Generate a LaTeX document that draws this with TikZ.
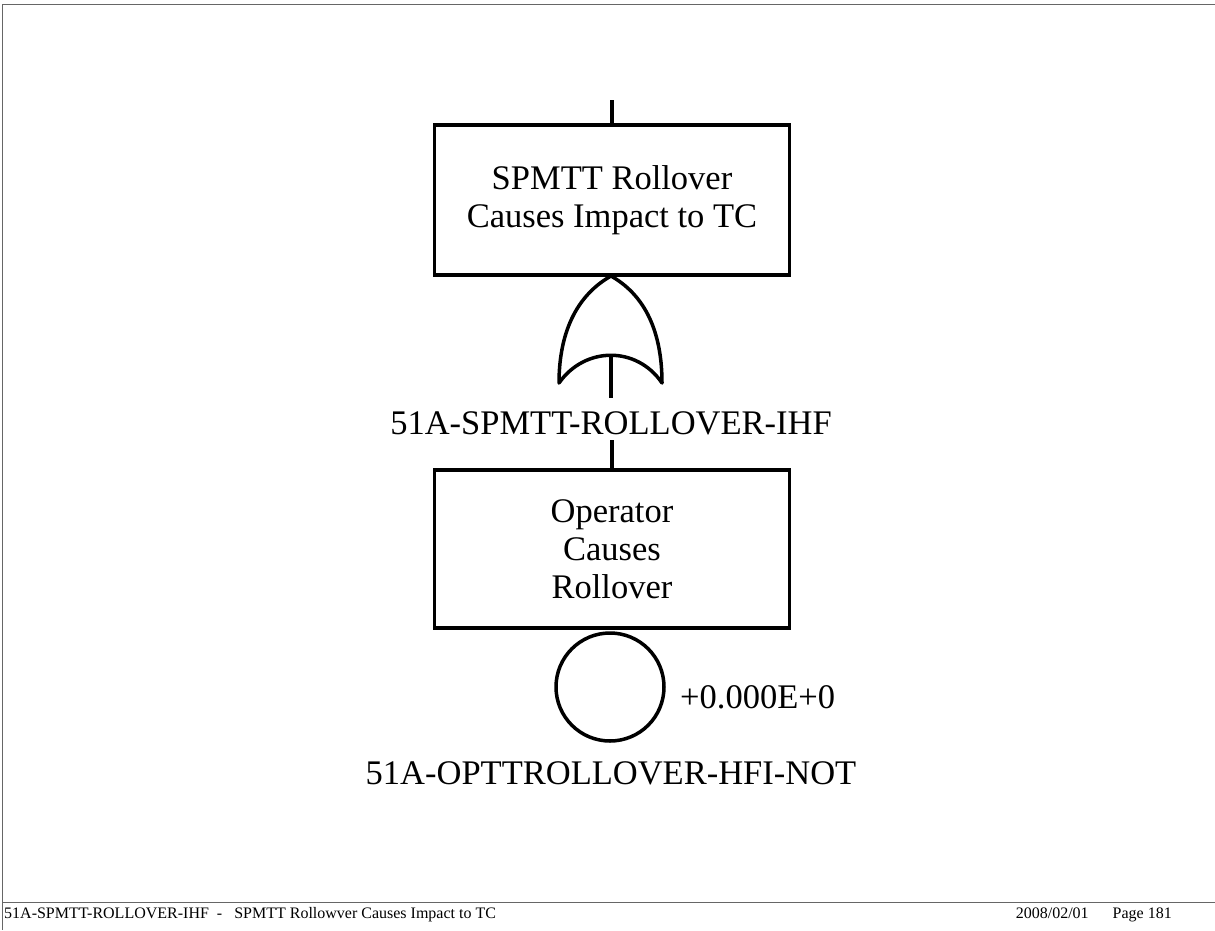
\documentclass[tikz,border=0pt]{standalone}
\usepackage{fontspec}
\setmainfont{Liberation Serif}
\usepackage{tikz}
\usetikzlibrary{positioning,calc}

\begin{document}
\begin{tikzpicture}[x=1pt, y=-1pt,
    event/.style={draw, line width=3.5pt, minimum width=355pt, align=center,
        font=\fontsize{34.5}{38}\selectfont, inner sep=0pt},
    label/.style={font=\fontsize{34.5}{38}\selectfont, inner sep=0pt},
    foot/.style={font=\fontsize{16}{18}\selectfont, inner sep=0pt},
    wire/.style={line width=3.5pt}]
    \useasboundingbox (0,0) rectangle (1215,930);
    % page frame
    \draw[gray!80!black, line width=1pt] (1215,4) -- (2,4) -- (2,930);
    \draw[gray!80!black, line width=1pt] (2,902) -- (1215,902);

    % top event and gate
    \node[event, minimum height=150pt] (top) at (612,200) {SPMTT Rollover\\Causes Impact to TC};
    \coordinate (topin) at (612,100);
    \draw[wire] (topin) -- (top.north);
    \coordinate (apex) at (611,276);
    \coordinate (gatein) at (611,356);
    \draw[wire, line join=round] (apex) .. controls (572,298) and (559,340) .. (559,383)
        .. controls (585,346) and (637,346) .. (662,383)
        .. controls (662,340) and (650,298) .. (apex);
    \node[label] (orname) at (611,423) {51A-SPMTT-ROLLOVER-IHF};
    \coordinate (stemend) at (611,398);
    \draw[wire] (gatein) -- (stemend);

    % intermediate event and basic event
    \node[event, minimum height=158pt] (op) at (612,549) {Operator\\Causes\\Rollover};
    \coordinate (linktop) at (612,440);
    \draw[wire] (linktop) -- (op.north);
    \node[draw, circle, line width=3.5pt, minimum size=108pt, inner sep=0pt] (basic) at (610,687) {};
    \node[label, anchor=west] (prob) at (680,697) {+0.000E+0};
    \node[label] (basicname) at (611,773) {51A-OPTTROLLOVER-HFI-NOT};

    % footer
    \node[foot, anchor=west] (footleft) at (4,915) {51A-SPMTT-ROLLOVER-IHF \ - \ \ SPMTT Rollowver Causes Impact to TC};
    \node[foot, anchor=east] (footright) at (1172,915) {2008/02/01\hspace{24pt}Page 181};
\end{tikzpicture}
\end{document}
